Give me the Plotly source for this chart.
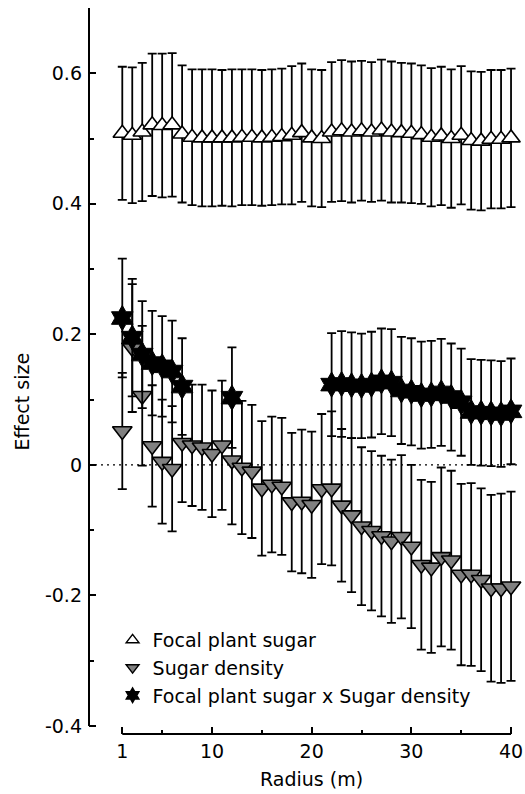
import plotly.graph_objects as go

# ---- data ----
radius = list(range(1, 41))

focal_mean = [0.508, 0.505, 0.510, 0.521, 0.520, 0.521, 0.507, 0.502, 0.501, 0.501,
              0.501, 0.501, 0.502, 0.502, 0.501, 0.502, 0.503, 0.505, 0.509, 0.501,
              0.500, 0.510, 0.512, 0.510, 0.512, 0.510, 0.513, 0.510, 0.509, 0.508,
              0.506, 0.502, 0.504, 0.500, 0.505, 0.497, 0.496, 0.499, 0.499, 0.501]
focal_err = [0.102, 0.104, 0.106, 0.109, 0.110, 0.110, 0.105, 0.104, 0.105, 0.105,
             0.104, 0.105, 0.104, 0.104, 0.104, 0.104, 0.104, 0.106, 0.106, 0.105,
             0.105, 0.107, 0.108, 0.108, 0.107, 0.107, 0.108, 0.108, 0.107, 0.107,
             0.106, 0.106, 0.106, 0.106, 0.106, 0.106, 0.106, 0.106, 0.106, 0.106]

density_mean = [0.052, 0.179, 0.106, 0.029, 0.005, -0.006, 0.034, 0.030, 0.027, 0.017,
                0.030, 0.007, -0.004, -0.010, -0.036, -0.030, -0.033, -0.057, -0.056, -0.061,
                -0.037, -0.036, -0.062, -0.077, -0.094, -0.101, -0.109, -0.117, -0.110, -0.125,
                -0.153, -0.157, -0.141, -0.146, -0.168, -0.168, -0.176, -0.189, -0.189, -0.186]
density_err = [0.089, 0.098, 0.107, 0.093, 0.095, 0.096, 0.091, 0.093, 0.096, 0.097,
               0.099, 0.098, 0.102, 0.102, 0.103, 0.104, 0.105, 0.106, 0.110, 0.112,
               0.115, 0.118, 0.117, 0.118, 0.121, 0.122, 0.123, 0.125, 0.125, 0.125,
               0.130, 0.131, 0.137, 0.137, 0.139, 0.140, 0.140, 0.143, 0.145, 0.145]

inter_radius = [1, 2, 3, 4, 5, 6, 7, 12] + list(range(22, 41))
inter_mean = [0.225, 0.195, 0.169, 0.156, 0.151, 0.143, 0.120, 0.103,
              0.123, 0.124, 0.122, 0.121, 0.123, 0.128, 0.126, 0.114, 0.112, 0.107,
              0.108, 0.111, 0.104, 0.096, 0.081, 0.080, 0.079, 0.078, 0.082]
inter_err = [0.091, 0.090, 0.082, 0.080, 0.077, 0.078, 0.074, 0.077,
             0.079, 0.081, 0.081, 0.080, 0.081, 0.081, 0.082, 0.082, 0.082, 0.082,
             0.082, 0.082, 0.082, 0.082, 0.081, 0.081, 0.081, 0.081, 0.081]

series_names = ["Focal plant sugar", "Sugar density", "Focal plant sugar x Sugar density"]

x_ticks = [1, 10, 20, 30, 40]
x_minor = [5, 15, 25, 35]
y_ticks = [-0.4, -0.2, 0, 0.2, 0.4, 0.6]
y_ticktext = ["-0.4", "-0.2", "0", "0.2", "0.4", "0.6"]
y_minor = [-0.3, -0.1, 0.1, 0.3, 0.5]

FONT = "DejaVu Sans"
FS = 19
X_RANGE = [-2.34, 41.0]
Y_RANGE = [-0.4123, 0.7]

fig = go.Figure()

def err(arr):
    return dict(type="data", array=arr, visible=True, color="black", thickness=1.8, width=4.5)

fig.add_trace(go.Scatter(
    x=radius, y=focal_mean, mode="markers", name=series_names[0], showlegend=False,
    error_y=err(focal_err), cliponaxis=False,
    marker=dict(symbol="triangle-up", size=16, color="white", line=dict(color="black", width=1.6))))

fig.add_trace(go.Scatter(
    x=radius, y=density_mean, mode="markers", name=series_names[1], showlegend=False,
    error_y=err(density_err), cliponaxis=False,
    marker=dict(symbol="triangle-down", size=17, color="#808080", line=dict(color="black", width=1.6))))

fig.add_trace(go.Scatter(
    x=inter_radius, y=inter_mean, mode="markers", name=series_names[2], showlegend=False,
    error_y=err(inter_err), cliponaxis=False,
    marker=dict(symbol="hexagram", size=19, color="black", line=dict(color="black", width=1))))

# legend entries
leg_styles = [("triangle-up", "white"), ("triangle-down", "#808080"), ("hexagram", "black")]
for name, (sym, col) in zip(series_names, leg_styles):
    fig.add_trace(go.Scatter(
        x=[None], y=[None], mode="markers", name=name, showlegend=True,
        marker=dict(symbol=sym, size=11, color=col, line=dict(color="black", width=1.5))))

# axis lines and zero line
fig.add_shape(type="line", xref="paper", yref="y", x0=0, x1=0, y0=-0.4, y1=0.7,
              line=dict(color="black", width=2))
fig.add_shape(type="line", xref="x", yref="paper", x0=1, x1=40, y0=0, y1=0,
              line=dict(color="black", width=2))
fig.add_shape(type="line", xref="x", yref="y", x0=X_RANGE[0], x1=41, y0=0, y1=0,
              line=dict(color="black", width=1.3, dash="2px,4px"), layer="below")

fig.update_layout(
    width=525, height=794,
    margin=dict(l=89, r=2, t=8, b=60),
    plot_bgcolor="white", paper_bgcolor="white",
    font=dict(family=FONT, size=FS, color="black"),
    showlegend=True,
    legend=dict(x=0.0546, y=0.1556, xanchor="left", yanchor="top",
                bgcolor="rgba(0,0,0,0)", font=dict(family=FONT, size=FS),
                itemsizing="trace"),
    xaxis=dict(range=X_RANGE, showline=False, showgrid=False, zeroline=False,
               tickmode="array", tickvals=x_ticks, ticks="inside", ticklen=7,
               tickwidth=2, tickcolor="black", ticklabelstandoff=4,
               ticklabeloverflow="allow",
               minor=dict(tickmode="array", tickvals=x_minor, ticks="inside",
                          ticklen=4, tickwidth=2, tickcolor="black", showgrid=False)),
    yaxis=dict(range=Y_RANGE, showline=False, showgrid=False, zeroline=False,
               tickmode="array", tickvals=y_ticks, ticktext=y_ticktext,
               ticks="inside", ticklen=7, tickwidth=2, tickcolor="black",
               ticklabelstandoff=6, ticklabeloverflow="allow",
               minor=dict(tickmode="array", tickvals=y_minor, ticks="inside",
                          ticklen=5, tickwidth=2, tickcolor="black", showgrid=False)),
    annotations=[
        dict(text="Effect size", xref="paper", yref="paper", x=-0.154, y=0.4587,
             textangle=-90, showarrow=False, font=dict(family=FONT, size=FS),
             xanchor="center", yanchor="middle"),
        dict(text="Radius (m)", xref="x", yref="paper", x=20, y=-0.062,
             showarrow=False, font=dict(family=FONT, size=FS),
             xanchor="center", yanchor="middle"),
    ],
)

fig.write_html("out.html", config={"displayModeBar": False},
               post_script="document.body.style.margin='0';document.body.style.overflow='hidden';")
